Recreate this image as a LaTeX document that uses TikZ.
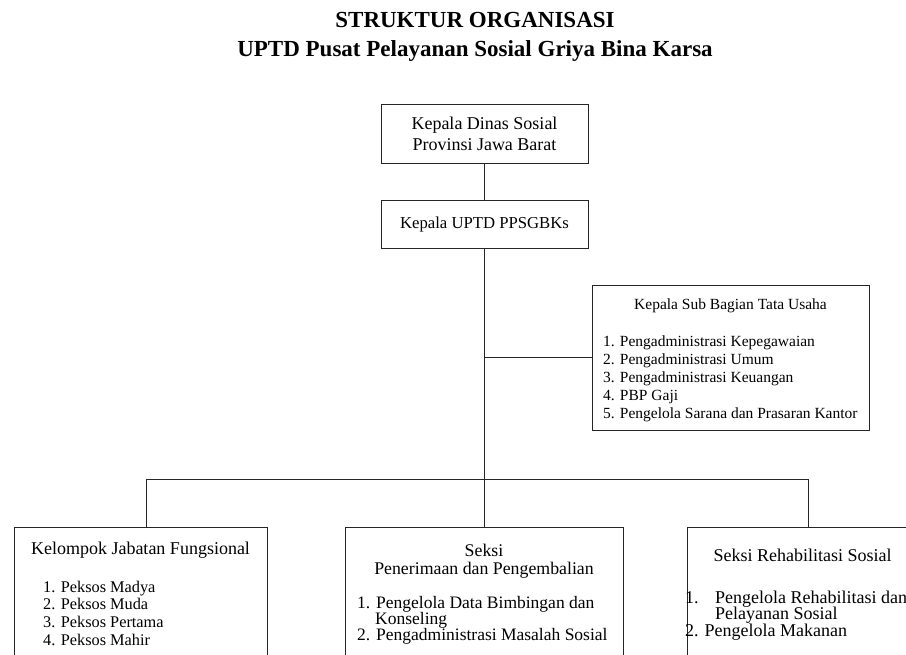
\documentclass[tikz,border=0pt]{standalone}
\usepackage{fontspec}
\setmainfont{Liberation Serif}
\newcommand{\fsz}[1]{\fontsize{#1}{#1}\selectfont}

\begin{document}
\begin{tikzpicture}[x=1pt,y=-1pt,
    orgbox/.style={draw=black!85, line width=0.9pt, inner sep=0pt, outer sep=0pt, anchor=north west},
    link/.style={draw=black!85, line width=0.9pt},
    lbl/.style={inner sep=0pt, anchor=base},
    itm/.style={inner sep=0pt, anchor=base west}]
    \useasboundingbox (0,0) rectangle (906,655);
    \clip (0,0) rectangle (906,655);

    % judul
    \node[lbl, font=\fsz{23}\bfseries] (judul1) at (475,27.3) {STRUKTUR ORGANISASI};
    \node[lbl, font=\fsz{23}\bfseries] (judul2) at (475,56.7) {UPTD Pusat Pelayanan Sosial Griya Bina Karsa};

    % pimpinan
    \node[orgbox, minimum width=207pt, minimum height=59pt, align=center,
          font=\fontsize{18}{21}\selectfont] (dinas) at (381,104) {Kepala Dinas Sosial\\Provinsi Jawa Barat};
    \node[orgbox, minimum width=207pt, minimum height=48pt, font=\fsz{16.7}] (uptd) at (381,200) {Kepala UPTD PPSGBKs};

    % sub bagian tata usaha
    \node[orgbox, minimum width=277pt, minimum height=145pt] (subbag) at (592,285) {};
    \node[lbl, font=\fsz{15.5}] (subbag-kep) at (730.5,309.5) {Kepala Sub Bagian Tata Usaha};
    \node[itm, font=\fsz{15.5}] (subbag-1) at (603,347) {1. Pengadministrasi Kepegawaian};
    \node[itm, font=\fsz{15.5}] (subbag-2) at (603,364.7) {2. Pengadministrasi Umum};
    \node[itm, font=\fsz{15.5}] (subbag-3) at (603,382.5) {3. Pengadministrasi Keuangan};
    \node[itm, font=\fsz{15.5}] (subbag-4) at (603,400.2) {4. PBP Gaji};
    \node[itm, font=\fsz{15.5}] (subbag-5) at (603,418) {5. Pengelola Sarana dan Prasaran Kantor};

    % kelompok jabatan fungsional
    \node[orgbox, minimum width=253pt, minimum height=180pt] (jabfung) at (14,527) {};
    \node[lbl, font=\fsz{18}] (jabfung-kep) at (140.5,554) {Kelompok Jabatan Fungsional};
    \node[itm, font=\fsz{16.3}] (jabfung-1) at (43,592) {1. Peksos Madya};
    \node[itm, font=\fsz{16.3}] (jabfung-2) at (43,609.8) {2. Peksos Muda};
    \node[itm, font=\fsz{16.3}] (jabfung-3) at (43,627.5) {3. Peksos Pertama};
    \node[itm, font=\fsz{16.3}] (jabfung-4) at (43,645.3) {4. Peksos Mahir};

    % seksi penerimaan
    \node[orgbox, minimum width=278pt, minimum height=180pt] (terima) at (345,527) {};
    \node[lbl, font=\fsz{17.8}] (terima-kep1) at (484,556) {Seksi};
    \node[lbl, font=\fsz{17.8}] (terima-kep2) at (484,574) {Penerimaan dan Pengembalian};
    \node[itm, font=\fsz{17.5}] (terima-1) at (357,608) {1. Pengelola Data Bimbingan dan};
    \node[itm, font=\fsz{17.5}] (terima-1b) at (375,624) {Konseling};
    \node[itm, font=\fsz{17.5}] (terima-2) at (357,640) {2. Pengadministrasi Masalah Sosial};

    % seksi rehabilitasi
    \node[orgbox, minimum width=242pt, minimum height=180pt] (rehab) at (687,527) {};
    \node[lbl, font=\fsz{18}] (rehab-kep) at (802.5,561) {Seksi Rehabilitasi Sosial};
    \node[itm, font=\fsz{18}] (rehab-1n) at (685,603) {1.};
    \node[itm, font=\fsz{18}] (rehab-1) at (715,603) {Pengelola Rehabilitasi dan};
    \node[itm, font=\fsz{18}] (rehab-1b) at (715,619.5) {Pelayanan Sosial};
    \node[itm, font=\fsz{18}] (rehab-2) at (685,636) {2. Pengelola Makanan};

    % garis
    \coordinate (cabang) at (484.5,479);
    \coordinate (kiri) at (146,479);
    \coordinate (kanan) at (808,479);
    \draw[link] (dinas) -- (uptd);
    \draw[link] (uptd) -- (cabang);
    \draw[link] (uptd.south |- subbag.west) -- (subbag.west);
    \draw[link] (kiri) -- (kanan);
    \draw[link] (kiri) -- (kiri |- jabfung.north);
    \draw[link] (cabang) -- (cabang |- terima.north);
    \draw[link] (kanan) -- (kanan |- rehab.north);
\end{tikzpicture}
\end{document}
